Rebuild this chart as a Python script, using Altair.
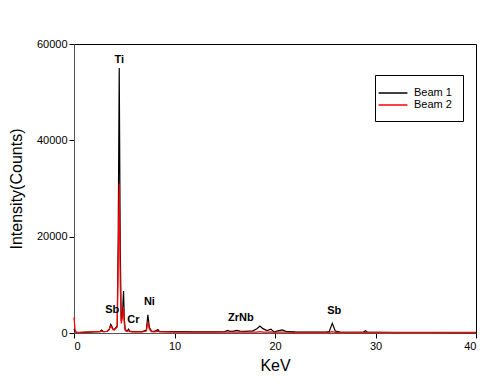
import altair as alt
import pandas as pd

kev = [0, 0.1, 0.2, 0.5, 1.0, 1.5, 2.0, 2.6, 2.75, 2.9, 3.3, 3.5, 3.65, 3.75, 3.85, 4.0,
       4.3, 4.4, 4.5, 4.6, 4.7, 4.85, 4.93, 5.0, 5.1, 5.3, 5.42, 5.55, 5.8, 6.2, 6.8,
       7.2, 7.35, 7.5, 7.7, 8.0, 8.2, 8.35, 8.5, 9, 10, 11, 12, 13, 14, 15, 15.3, 15.5,
       15.8, 16.2, 16.5, 17, 17.8, 18.2, 18.5, 18.8, 19.2, 19.6, 19.9, 20.2, 20.7, 21.1,
       22, 23, 24, 25, 25.4, 25.7, 26.0, 26.5, 28, 28.8, 29.0, 29.2, 30, 32, 35, 40]

beam1 = [800, 400, 150, 100, 150, 200, 250, 300, 600, 300, 350, 700, 1800, 1500, 900, 700,
         1500, 20000, 55000, 18000, 2500, 5000, 8700, 3000, 700, 400, 800, 400, 300, 300, 300,
         600, 3800, 1200, 400, 350, 500, 700, 350, 300, 300, 300, 250, 250, 250, 300, 550, 350,
         350, 550, 400, 350, 450, 900, 1450, 900, 500, 800, 200, 400, 650, 350,
         250, 200, 200, 200, 300, 2000, 400, 200, 150, 200, 450, 150, 120, 100, 100, 80]

beam2 = [3300, 800, 200, 150, 200, 250, 300, 300, 400, 300, 350, 800, 1400, 1200, 700, 600,
         1200, 15000, 31000, 10000, 2000, 3500, 5500, 2000, 500, 300, 500, 300, 250, 250, 250,
         400, 2300, 800, 300, 250, 300, 400, 250, 250, 200, 200, 200, 180, 180, 180, 200, 180,
         180, 200, 180, 180, 180, 200, 300, 200, 180, 220, 150, 180, 200, 160,
         150, 150, 150, 150, 150, 300, 150, 150, 150, 150, 180, 150, 150, 150, 150, 150]

label_text = ["Ti", "Sb", "Cr", "Ni", "ZrNb", "Sb"]
label_kev = [4.5, 3.8, 5.9, 7.5, 16.6, 25.9]
label_y = [56700, 4800, 2700, 6400, 3100, 4600]

df = pd.concat([
    pd.DataFrame({"keV": kev, "counts": beam1, "beam": "Beam 1"}),
    pd.DataFrame({"keV": kev, "counts": beam2, "beam": "Beam 2"}),
])
labels = pd.DataFrame({"t": label_text, "keV": label_kev, "y": label_y})

FONT = "Liberation Sans"

x = alt.X("keV:Q", scale=alt.Scale(domain=[0, 40], nice=False),
          axis=alt.Axis(title="KeV", values=[0, 10, 20, 30, 40], format="d", titleFontSize=16,
                        titleFontWeight="normal", titlePadding=6))
y = alt.Y("counts:Q", scale=alt.Scale(domain=[0, 60000], nice=False),
          axis=alt.Axis(title="Intensity(Counts)", values=[0, 20000, 40000, 60000], format="d",
                        titleFontSize=16, titleFontWeight="normal", titlePadding=12, grid=False))

lines = alt.Chart(df).mark_line(strokeWidth=1.2).encode(
    x=x, y=y,
    color=alt.Color("beam:N", scale=alt.Scale(domain=["Beam 1", "Beam 2"], range=["black", "red"]),
                    legend=alt.Legend(title=None, orient="none", legendX=301, legendY=31,
                                      symbolType="M-2.4,0H2.4", symbolStrokeWidth=1.5, symbolSize=144,
                                      strokeColor="black", fillColor="white", padding=11,
                                      labelOffset=14, labelFontSize=11, labelFont=FONT,
                                      rowPadding=0)),
    detail="beam:N",
)

text = alt.Chart(labels).mark_text(fontWeight="bold", fontSize=11, font=FONT, baseline="middle").encode(
    x="keV:Q", y="y:Q", text="t:N")

chart = (lines + text).properties(
    width=402, height=289,
    autosize=alt.AutoSizeParams(type="none"),
    padding={"left": 66, "top": 36, "right": 16, "bottom": 48},
).configure_view(stroke="black", strokeWidth=1).configure_axis(
    labelFont=FONT, titleFont=FONT, labelFontSize=11, labelColor="black", titleColor="black",
    domainColor="#555", tickColor="black", tickSize=5, grid=False
)

chart.save("out.html", embed_options={"renderer": "svg", "actions": False})
